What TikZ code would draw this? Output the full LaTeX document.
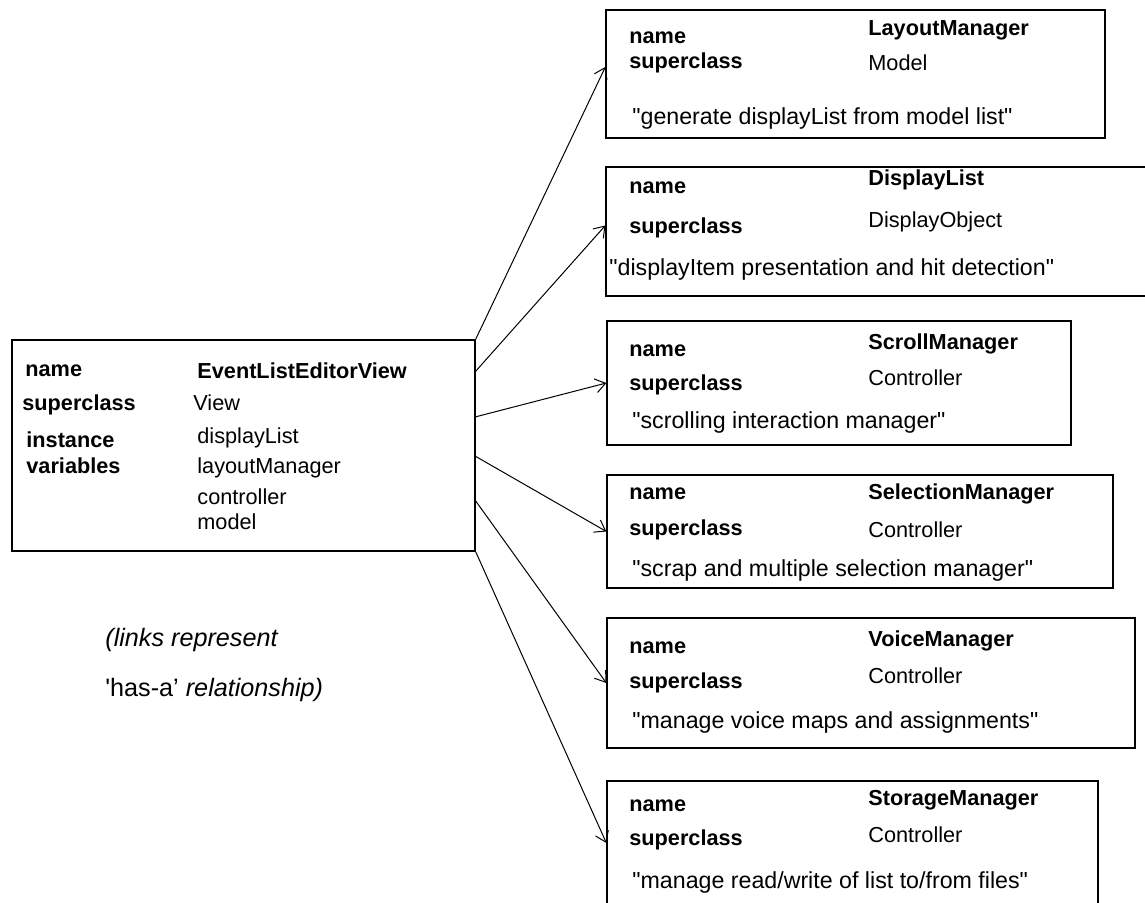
\documentclass[tikz,border=0pt]{standalone}
\usepackage{fontspec}
\setmainfont{Liberation Sans}
\usetikzlibrary{arrows.meta,positioning,fit}

\begin{document}
\begin{tikzpicture}[
  x=0.5pt, y=-0.5pt,
  font=\fontsize{10.85}{13}\selectfont,
  cls/.style={draw, line width=0.65pt, inner sep=0pt},
  fld/.style={anchor=west, inner sep=0pt, font=\fontsize{10.85}{13}\selectfont\bfseries},
  val/.style={anchor=west, inner sep=0pt},
  desc/.style={anchor=west, inner sep=0pt, font=\fontsize{11.6}{13}\selectfont},
  note/.style={anchor=west, inner sep=0pt, font=\fontsize{12.6}{15}\selectfont},
  link/.style={line width=0.5pt, -{Straight Barb[length=5pt,width=7pt]}}
]
\useasboundingbox (0,0) rectangle (1145,903);
\clip (0,0) rectangle (1145,903);

% Editor view
\node[cls, fit={(12,340) (475,551)}] (main) {};
\node[fld] (mname)  at (25,371) {name};
\node[fld] (mcname) at (197,371) {EventListEditorView};
\node[fld] (msup)   at (22,405) {superclass};
\node[val] (msupv)  at (193,403) {View};
\node[fld] (minst)  at (26,440) {instance};
\node[fld] (mvars)  at (26,466) {variables};
\node[val] (mv1)    at (197,438) {displayList};
\node[val] (mv2)    at (197,468) {layoutManager};
\node[val] (mv3)    at (197,497) {controller};
\node[val] (mv4)    at (197,522) {model};

\node[note] (note1) at (105,640) {\itshape (links represent};
\node[note] (note2) at (105,690) {\textquotesingle has-a’ \itshape relationship)};

% Layout manager
\node[cls, fit={(606,10) (1105,138)}] (layout) {};
\node[fld] (lname)  at (629,38) {name};
\node[fld] (lcname) at (868,30) {LayoutManager};
\node[fld] (lsup)   at (629,63) {superclass};
\node[val] (lsupv)  at (868,63) {Model};
\node[desc] (ldesc) at (632,119) {\textquotedbl generate displayList from model list\textquotedbl};

% Display list
\node[cls, fit={(606,167) (1160,296)}] (display) {};
\node[fld] (dname)  at (629,188) {name};
\node[fld] (dcname) at (868,180) {DisplayList};
\node[fld] (dsup)   at (629,228) {superclass};
\node[val] (dsupv)  at (868,222) {DisplayObject};
\node[desc] (ddesc) at (609,270) {\textquotedbl displayItem presentation and hit detection\textquotedbl};

% Scroll manager
\node[cls, fit={(607,321) (1071,445)}] (scroll) {};
\node[fld] (sname)  at (629,351) {name};
\node[fld] (scname) at (868,344) {ScrollManager};
\node[fld] (ssup)   at (629,385) {superclass};
\node[val] (ssupv)  at (868,378) {Controller};
\node[desc] (sdesc) at (632,423) {\textquotedbl scrolling interaction manager\textquotedbl};

% Selection manager
\node[cls, fit={(607,475) (1113,588)}] (select) {};
\node[fld] (xname)  at (629,494) {name};
\node[fld] (xcname) at (868,494) {SelectionManager};
\node[fld] (xsup)   at (629,530) {superclass};
\node[val] (xsupv)  at (868,530) {Controller};
\node[desc] (xdesc) at (632,570) {\textquotedbl scrap and multiple selection manager\textquotedbl};

% Voice manager
\node[cls, fit={(607,618) (1135,748)}] (voice) {};
\node[fld] (vname)  at (629,648) {name};
\node[fld] (vcname) at (868,641) {VoiceManager};
\node[fld] (vsup)   at (629,683) {superclass};
\node[val] (vsupv)  at (868,676) {Controller};
\node[desc] (vdesc) at (632,722) {\textquotedbl manage voice maps and assignments\textquotedbl};

% Storage manager
\node[cls, fit={(607,781) (1098,905)}] (storage) {};
\node[fld] (tname)  at (629,806) {name};
\node[fld] (tcname) at (868,800) {StorageManager};
\node[fld] (tsup)   at (629,840) {superclass};
\node[val] (tsupv)  at (868,835) {Controller};
\node[desc] (tdesc) at (632,882) {\textquotedbl manage read/write of list to/from files\textquotedbl};

% has-a links
\coordinate (out2) at (475,372);
\coordinate (out3) at (475,417);
\coordinate (out4) at (475,456);
\coordinate (out5) at (475,500);
\draw[link] (main.north east) -- ([yshift=3.5pt]layout.west);
\draw[link] (out2) -- ([yshift=3pt]display.west);
\draw[link] (out3) -- (scroll.west);
\draw[link] (out4) -- (select.west);
\draw[link] (out5) -- (voice.west);
\draw[link] (main.south east) -- (storage.west);

\end{tikzpicture}
\end{document}
